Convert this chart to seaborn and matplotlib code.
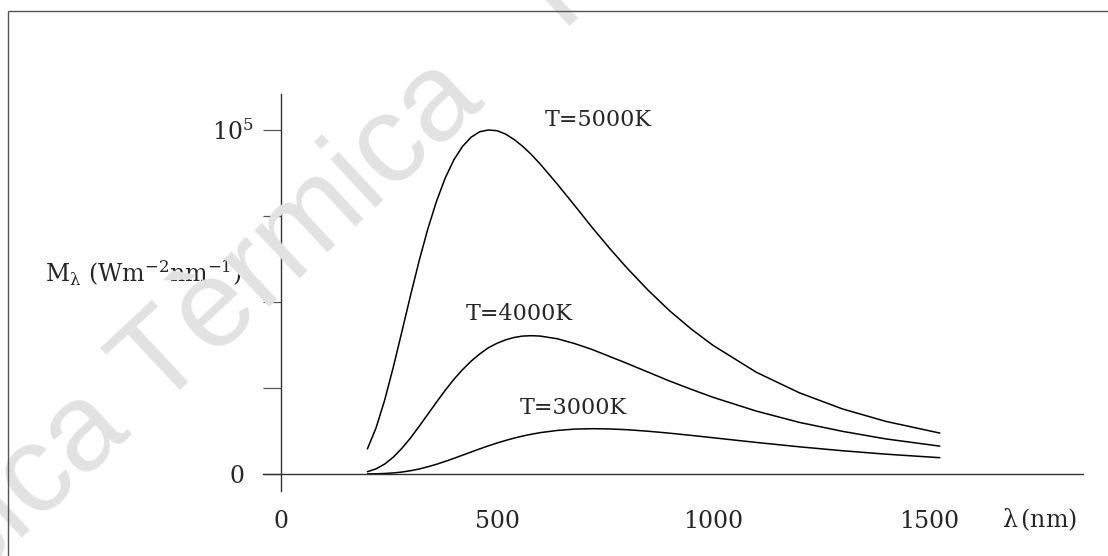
import numpy as np
import pandas as pd
import matplotlib
matplotlib.use('Agg')
import matplotlib.pyplot as plt
import seaborn as sns
from matplotlib.patches import Rectangle
from matplotlib.ticker import FixedLocator

# Valors llegits de la figura (lambda en nm, M en W m-2 nm-1)
lam = [200, 220, 240, 260, 280, 300, 320, 340, 360, 380, 400, 420, 440, 460, 480,
       500, 520, 540, 560, 580, 600, 640, 680, 720, 760, 800, 850, 900, 950, 1000,
       1100, 1200, 1300, 1400, 1525]

m_5000 = [7300, 13400, 21500, 31100, 41500, 52000, 62100, 71300, 79300, 86000,
          91300, 95200, 97900, 99500, 100000, 99800, 98800, 97200, 95200, 92800,
          90100, 84200, 78000, 71700, 65700, 60000, 53400, 47400, 42100, 37400,
          29600, 23600, 18900, 15300, 11900]

m_4000 = [660, 1500, 2900, 4900, 7500, 10500, 13900, 17400, 20900, 24300,
          27500, 30300, 32800, 34900, 36700, 38000, 39000, 39700, 40100, 40200,
          40100, 39300, 37900, 36200, 34200, 32200, 29600, 27000, 24600, 22300,
          18300, 15000, 12400, 10200, 8100]

m_3000 = [20, 60, 150, 310, 570, 960, 1460, 2100, 2830, 3660,
          4540, 5460, 6390, 7300, 8180, 9000, 9760, 10440, 11050, 11570,
          12020, 12670, 13050, 13170, 13100, 12880, 12430, 11860, 11220, 10540,
          9180, 7900, 6760, 5770, 4740]

labels = ['T=5000K', 'T=4000K', 'T=3000K']
label_x = [611, 428, 553]
label_y = [102900, 46500, 19200]

x_major = [0, 500, 1000, 1500]
x_minor = [100, 200, 300, 400, 600, 700, 800, 900, 1100, 1200, 1300, 1400]
y_ticks = [0, 25000, 50000, 75000, 100000]
y_ticklabels = ['0', '', '', '', r'$\mathregular{10^5}$']

df = pd.concat([
    pd.DataFrame({'lam': lam, 'M': m_5000, 'T': labels[0]}),
    pd.DataFrame({'lam': lam, 'M': m_4000, 'T': labels[1]}),
    pd.DataFrame({'lam': lam, 'M': m_3000, 'T': labels[2]}),
])

sns.set_style('white')
plt.rcParams['font.family'] = ['DejaVu Serif']
plt.rcParams['mathtext.fontset'] = 'dejavuserif'

fig = plt.figure(figsize=(11.08, 5.56), dpi=100)

# marc exterior
fig.add_artist(Rectangle((8 / 1108, -0.05), 1.2, 1 - 11 / 556 + 0.05,
                         transform=fig.transFigure, fill=False,
                         edgecolor='#555555', linewidth=1.0))

# marca d'aigua
fig.text(-0.100, -0.189, 'Física Tèrmica   Física', family='Liberation Sans',
         fontsize=90, color='#e2e2e2', rotation=43, rotation_mode='anchor',
         ha='left', va='baseline', zorder=0)

ax = fig.add_axes([263 / 1108, 65 / 556, 820 / 1108, 397 / 556])
ax.patch.set_alpha(0)

sns.lineplot(data=df, x='lam', y='M', hue='T', palette=['black'] * 3,
             estimator=None, sort=False, legend=False, linewidth=1.1, ax=ax)

ax.set_xlim(-41.7, 1856.5)
ax.set_ylim(-4942, 110465)

for s in ['top', 'right']:
    ax.spines[s].set_visible(False)
ax.spines['left'].set_position(('data', 0))
ax.spines['bottom'].set_position(('data', 0))
for s in ['left', 'bottom']:
    ax.spines[s].set_color('#333333')
    ax.spines[s].set_linewidth(1.0)

ax.xaxis.set_major_locator(FixedLocator(x_major))
ax.xaxis.set_minor_locator(FixedLocator(x_minor))
ax.set_xticklabels([str(v) for v in x_major])
ax.tick_params(axis='x', which='major', direction='out', length=12, width=0.9,
               color='#555555', pad=14, labelsize=17)
ax.tick_params(axis='x', which='minor', direction='out', length=8, width=0.9,
               color='#555555')

ax.set_yticks(y_ticks)
ax.set_yticklabels(y_ticklabels)
ax.tick_params(axis='y', which='major', direction='out', length=13, width=0.9,
               color='#555555', labelsize=17, left=True)
ax.yaxis.get_major_ticks()[0].set_pad(13)
ax.yaxis.get_major_ticks()[4].set_pad(7)

ax.set_xlabel('')
ax.set_ylabel('')

for t, x, y in zip(labels, label_x, label_y):
    ax.text(x, y, t, fontsize=16, ha='left', va='center')

ax.text(-546, 58400, r'$\mathregular{M_\lambda\ (Wm^{-2}nm^{-1})}$', fontsize=17,
        ha='left', va='center')
ax.text(1670, -13300, r'$\mathregular{\lambda\,(nm)}$', fontsize=17,
        ha='left', va='center', clip_on=False)

fig.savefig('out.png', dpi=100)
